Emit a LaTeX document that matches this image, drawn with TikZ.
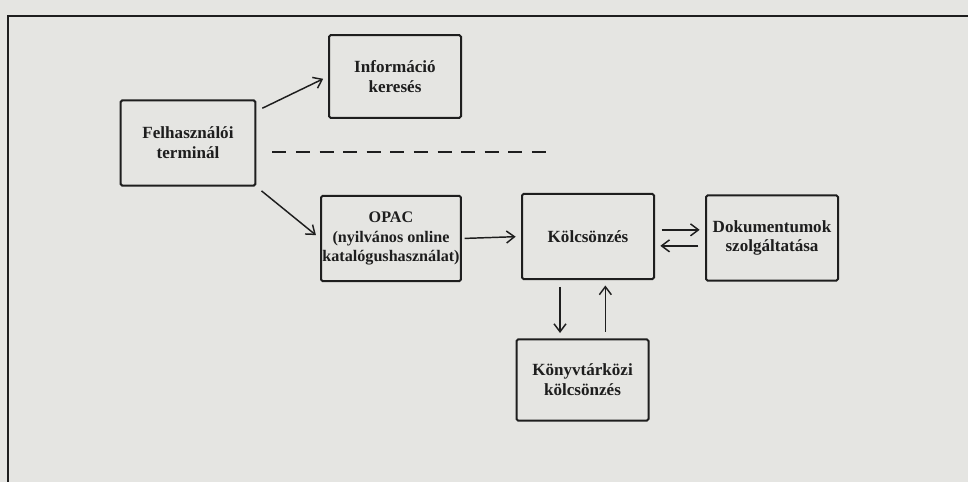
\documentclass[tikz,border=0pt]{standalone}
\usepackage{fontspec}
\setmainfont{Liberation Serif}
\usetikzlibrary{arrows.meta}

\definecolor{paper}{RGB}{229,229,226}
\definecolor{ink}{RGB}{30,30,30}

\begin{document}
\begin{tikzpicture}[x=0.75pt, y=-0.75pt,
    box/.style={draw=ink, line width=1.5pt, rounded corners=1.2pt,
      minimum width=99pt, minimum height=64pt, align=center,
      text=ink, font=\fontsize{12.8}{14.8}\selectfont\bfseries},
    arr/.style={draw=ink, line width=1.1pt,
      -{Straight Barb[length=6pt, width=9pt]},
      shorten >=4pt, shorten <=5pt},
    dashln/.style={draw=ink, line width=1.5pt, dash pattern=on 10.5pt off 7.2pt}]
  \fill[paper] (0,0) rectangle (968,482);
  \useasboundingbox (0,0) rectangle (968,482);

  % frame
  \draw[ink, line width=2pt] (968,16) -- (8,16) -- (8,482);

  % boxes
  \node[box, minimum width=101pt] (term) at (188,143) {Felhasználói\\terminál};
  \node[box, minimum height=62pt] (info) at (395,76.5) {Információ\\keresés};
  \node[box, inner xsep=1pt, font=\fontsize{12.1}{14.8}\selectfont\bfseries]
    (opac) at (391,238.5) {OPAC\\(nyilvános online\\katalógushasználat)};
  \node[box] (kolcs) at (588,236.5) {Kölcsönzés};
  \node[box] (dok) at (772,238) {Dokumentumok\\szolgáltatása};
  \node[box, minimum height=61pt] (kvk) at (582.5,380) {Könyvtárközi\\kölcsönzés};

  \coordinate (dashend) at (546,152);

  % connectors
  \draw[arr] (term.25) -- (info.west);
  \draw[arr] (term.south east) -- (opac.west);
  \draw[dashln, shorten <=12pt] (term.east |- dashend) -- (dashend);
  \draw[arr, shorten <=2pt] (opac.east) -- (kolcs.west);
  \draw[arr] ([yshift=5pt]kolcs.east) -- ([yshift=5pt]kolcs.east -| dok.west);
  \draw[arr] ([yshift=-7pt]kolcs.east -| dok.west) -- ([yshift=-7pt]kolcs.east);
  \draw[arr] ([xshift=-21pt]kolcs.south) -- ([xshift=-21pt]kolcs.south |- kvk.north);
  \draw[arr] ([xshift=13pt]kolcs.south |- kvk.north) -- ([xshift=13pt]kolcs.south);
\end{tikzpicture}
\end{document}
